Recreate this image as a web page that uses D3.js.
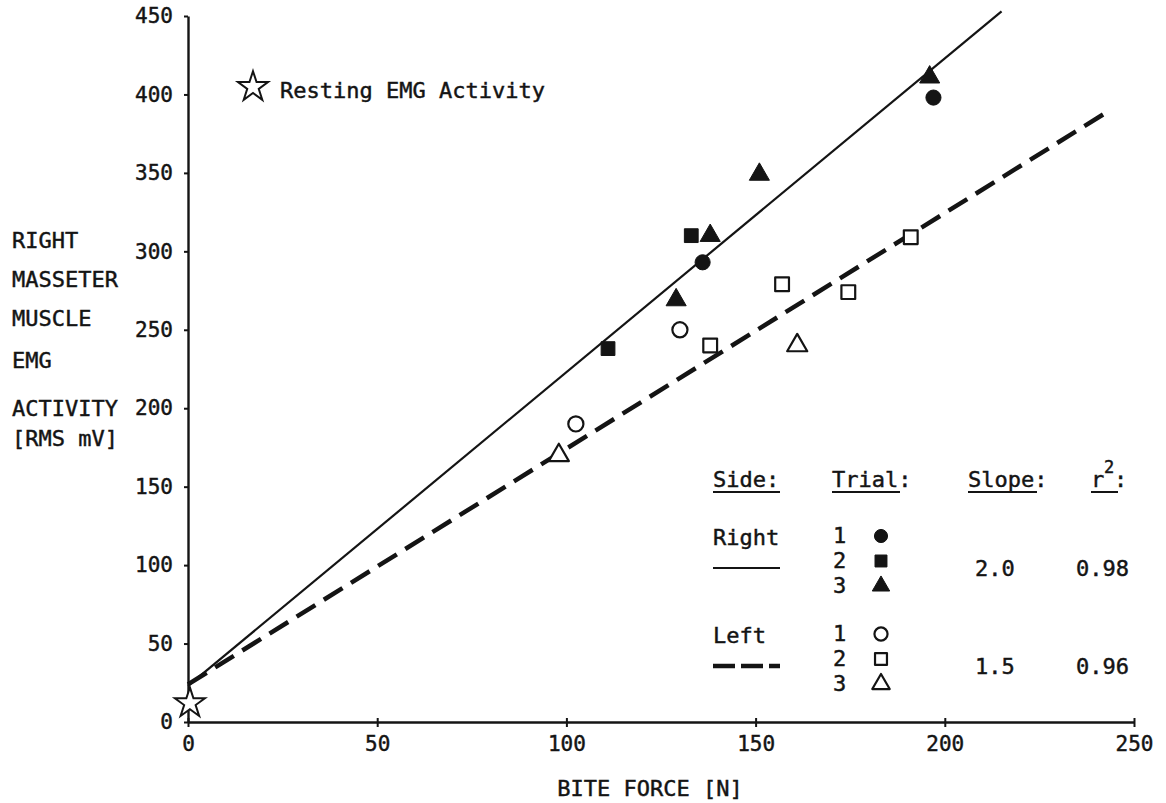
<!DOCTYPE html>
<html>
<head>
<meta charset="utf-8">
<script src="https://cdn.jsdelivr.net/npm/d3@7"></script>
<style>
  body { margin: 0; background: #fff; }
  text { font-family: "DejaVu Sans Mono", monospace; fill: #141414; stroke: #141414; stroke-width: 0.45px; font-size: 22px; }
</style>
</head>
<body>
<svg id="chart" width="1166" height="803"></svg>
<script>
// Tick values of both axes.
const xTicks = [0, 50, 100, 150, 200, 250];
const yTicks = [0, 50, 100, 150, 200, 250, 300, 350, 400, 450];

// Measured points: [bite force (N), EMG activity (RMS mV)].
const rightTrial1 = [[136, 293], [197, 398]];
const rightTrial2 = [[111, 238], [133, 310]];
const rightTrial3 = [[129, 269], [138, 310], [151, 349], [196, 411]];
const leftTrial1 = [[102.5, 190], [130, 250]];
const leftTrial2 = [[138, 240], [157, 279], [174.5, 274], [191, 309]];
const leftTrial3 = [[98, 170], [161, 240]];

// Regression lines (end points).
const rightFit = [[0, 23], [215, 453]];
const leftFit = [[0, 24], [243, 389]];

// Resting EMG activity point.
const resting = [[0.5, 12]];

// Texts.
const yTitle = ["RIGHT", "MASSETER", "MUSCLE", "EMG", "ACTIVITY", "[RMS mV]"];
const xTitle = "BITE FORCE [N]";
const restingLabel = "Resting EMG Activity";
const sides = ["Right", "Left"];
const trials = ["1", "2", "3"];
const slopes = ["2.0", "1.5"];
const rSquared = ["0.98", "0.96"];

// Marker shapes per trial.
const shapes = [d3.symbolCircle, d3.symbolSquare, d3.symbolTriangle];
const shapeSizes = [180, 190, 175];

const series = [
  { data: rightTrial1, trial: 0, filled: true },
  { data: rightTrial2, trial: 1, filled: true },
  { data: rightTrial3, trial: 2, filled: true },
  { data: leftTrial1, trial: 0, filled: false },
  { data: leftTrial2, trial: 1, filled: false },
  { data: leftTrial3, trial: 2, filled: false },
];

const svg = d3.select("#chart");
const ink = "#141414";

// Scales.
const x = d3.scaleLinear().domain([0, 250]).range([188, 1134]);
const y = d3.scaleLinear().domain([0, 450]).range([722, 16]);

// Y axis.
const yAxis = svg
  .append("g")
  .attr("transform", "translate(" + x(0) + ",0)")
  .call(d3.axisLeft(y).tickValues(yTicks).tickSizeInner(4).tickSizeOuter(0).tickPadding(11));

// X axis.
const xAxis = svg
  .append("g")
  .attr("transform", "translate(0," + y(0) + ")")
  .call(d3.axisBottom(x).tickValues(xTicks).tickSizeInner(5).tickSizeOuter(0).tickPadding(9));

// Style both axes like the typed original.
[xAxis, yAxis].forEach(function (g) {
  g.select(".domain").attr("stroke", ink).attr("stroke-width", 2.4);
  g.selectAll(".tick line").attr("stroke", ink).attr("stroke-width", 2);
  g.selectAll(".tick text")
    .attr("fill", ink)
    .style("font-size", "21px")
    .style("font-family", '"DejaVu Sans Mono", monospace');
});
xAxis.selectAll(".tick line").attr("y1", -4);

// Y axis title, one word per line.
svg
  .append("g")
  .selectAll("text")
  .data(yTitle)
  .enter()
  .append("text")
  .attr("x", 12)
  .attr("y", function (d, i) {
    return [248, 287, 326, 368, 416, 446][i];
  })
  .text(function (d) {
    return d;
  });

// X axis title.
svg
  .append("text")
  .attr("x", 650)
  .attr("y", 796)
  .attr("text-anchor", "middle")
  .text(xTitle);

// Regression lines.
const line = d3
  .line()
  .x(function (d) {
    return x(d[0]);
  })
  .y(function (d) {
    return y(d[1]);
  });

svg
  .append("path")
  .datum(rightFit)
  .attr("d", line)
  .attr("fill", "none")
  .attr("stroke", ink)
  .attr("stroke-width", 2.2);

svg
  .append("path")
  .datum(leftFit)
  .attr("d", line)
  .attr("fill", "none")
  .attr("stroke", ink)
  .attr("stroke-width", 4.5)
  .attr("stroke-dasharray", "22,10");

// Draw a marker for a given trial.
function marker(sel, trial, filled, scale) {
  sel
    .attr("d", d3.symbol(shapes[trial], shapeSizes[trial] * scale))
    .attr("fill", filled ? ink : "#fff")
    .attr("stroke", ink)
    .attr("stroke-width", filled ? 1 : 2.2)
    .attr("stroke-linejoin", "round");
}

// Data points.
series.forEach(function (s) {
  svg
    .append("g")
    .selectAll("path")
    .data(s.data)
    .enter()
    .append("path")
    .attr("transform", function (d) {
      return "translate(" + x(d[0]) + "," + y(d[1]) + ")";
    })
    .call(marker, s.trial, s.filled, 1);
});

// Resting star on the axis and in the note.
const star = d3.symbol(d3.symbolStar, 280);
svg
  .append("g")
  .selectAll("path")
  .data(resting)
  .enter()
  .append("path")
  .attr("transform", function (d) {
    return "translate(" + x(d[0]) + "," + y(d[1]) + ")";
  })
  .attr("d", star)
  .attr("fill", "#fff")
  .attr("stroke", ink)
  .attr("stroke-width", 2);

svg
  .append("path")
  .attr("transform", "translate(253,87)")
  .attr("d", star)
  .attr("fill", "#fff")
  .attr("stroke", ink)
  .attr("stroke-width", 2);

svg.append("text").attr("x", 280).attr("y", 98).text(restingLabel);

// Legend.
const legend = svg.append("g");
const headers = [
  { text: "Side:", x: 713, u: [713, 780] },
  { text: "Trial:", x: 832, u: [832, 900] },
  { text: "Slope:", x: 968, u: [968, 1037] },
  { text: "r", x: 1091, u: [1091, 1118] },
];
headers.forEach(function (h) {
  legend.append("text").attr("x", h.x).attr("y", 487).text(h.text);
  legend
    .append("line")
    .attr("x1", h.u[0])
    .attr("x2", h.u[1])
    .attr("y1", 492)
    .attr("y2", 492)
    .attr("stroke", ink)
    .attr("stroke-width", 2);
});
legend.append("text").attr("x", 1104).attr("y", 473).style("font-size", "17px").text("2");
legend.append("text").attr("x", 1114).attr("y", 487).text(":");

const rowTops = [543, 641];
sides.forEach(function (side, si) {
  const top = rowTops[si];
  legend.append("text").attr("x", 713).attr("y", top + 2).text(side);
  legend
    .append("line")
    .attr("x1", 713)
    .attr("x2", 780)
    .attr("y1", top + 25)
    .attr("y2", top + 25)
    .attr("stroke", ink)
    .attr("stroke-width", si === 0 ? 2 : 4.5)
    .attr("stroke-dasharray", si === 0 ? null : "22,6");
  trials.forEach(function (t, ti) {
    legend
      .append("text")
      .attr("x", 833)
      .attr("y", top + ti * 25)
      .text(t);
    legend
      .append("path")
      .attr("transform", "translate(881," + (top - 7 + ti * 25) + ")")
      .call(marker, ti, si === 0, 0.75);
  });
  legend.append("text").attr("x", 975).attr("y", top + 33).text(slopes[si]);
  legend.append("text").attr("x", 1076).attr("y", top + 33).text(rSquared[si]);
});
</script>
</body>
</html>
